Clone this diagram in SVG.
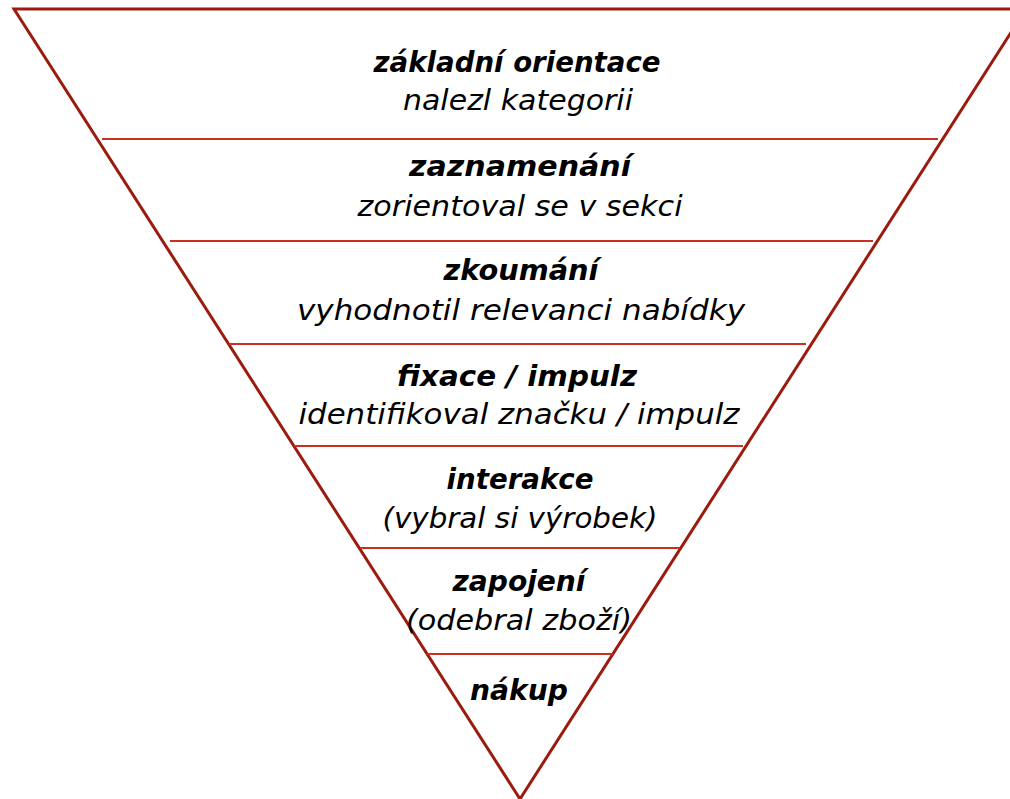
<svg xmlns="http://www.w3.org/2000/svg" width="1010" height="799" viewBox="0 0 1010 799">
<style>
.tri{fill:none;stroke:#9b1b0f;stroke-width:3;stroke-linejoin:miter}
.sep{stroke:#c9301f;stroke-width:2.2}
text{font-family:"DejaVu Sans","Liberation Sans",sans-serif;font-style:italic;text-anchor:middle;fill:#000}
.h{font-weight:bold;font-size:28px}
.s{font-size:28px}
</style>
<rect width="1010" height="799" fill="#fff"/>
<g id="funnel">
<polygon class="tri" points="14,9 1026,9 520,799"/>
</g>
<g id="connectors">
<line class="sep" x1="102" y1="139" x2="938" y2="139"/>
<line class="sep" x1="170" y1="241" x2="873" y2="241"/>
<line class="sep" x1="229" y1="344" x2="806" y2="344"/>
<line class="sep" x1="294" y1="446" x2="743" y2="446"/>
<line class="sep" x1="360" y1="548" x2="680" y2="548"/>
<line class="sep" x1="427" y1="654" x2="613" y2="654"/>
</g>
<g id="level1">
<text class="h" x="517" y="72" textLength="287" lengthAdjust="spacingAndGlyphs">základní orientace</text>
<text class="s" x="518" y="110" textLength="230" lengthAdjust="spacingAndGlyphs">nalezl kategorii</text>
</g>
<g id="level2">
<text class="h" x="520" y="176" textLength="222" lengthAdjust="spacingAndGlyphs">zaznamenání</text>
<text class="s" x="520" y="216" textLength="325" lengthAdjust="spacingAndGlyphs">zorientoval se v sekci</text>
</g>
<g id="level3">
<text class="h" x="521" y="280" textLength="155" lengthAdjust="spacingAndGlyphs">zkoumání</text>
<text class="s" x="521" y="320" textLength="448" lengthAdjust="spacingAndGlyphs">vyhodnotil relevanci nabídky</text>
</g>
<g id="level4">
<text class="h" x="517" y="386" textLength="240" lengthAdjust="spacingAndGlyphs">fixace / impulz</text>
<text class="s" x="519" y="424" textLength="441" lengthAdjust="spacingAndGlyphs">identifikoval značku / impulz</text>
</g>
<g id="level5">
<text class="h" x="520" y="489" textLength="147" lengthAdjust="spacingAndGlyphs">interakce</text>
<text class="s" x="520" y="528" textLength="275" lengthAdjust="spacingAndGlyphs">(vybral si výrobek)</text>
</g>
<g id="level6">
<text class="h" x="519" y="591" textLength="133" lengthAdjust="spacingAndGlyphs">zapojení</text>
<text class="s" x="519" y="630" textLength="226" lengthAdjust="spacingAndGlyphs">(odebral zboží)</text>
</g>
<g id="level7">
<text class="h" x="519" y="700" textLength="98" lengthAdjust="spacingAndGlyphs">nákup</text>
</g>
</svg>
